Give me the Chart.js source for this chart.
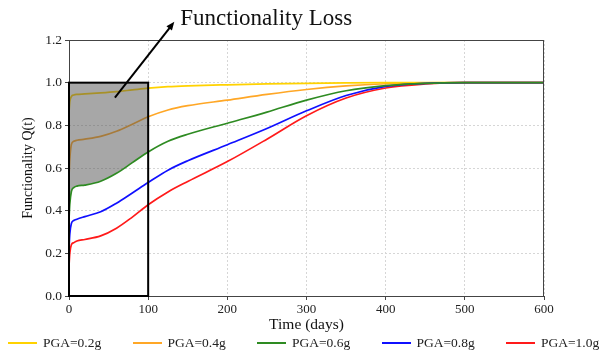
<!DOCTYPE html>
<html>
<head>
<meta charset="utf-8">
<script src="https://cdn.jsdelivr.net/npm/chart.js@4"></script>
<style>
  body { margin: 0; background: #fff; }
  #wrap { position: relative; width: 616px; height: 351px; }
  #legend {
    position: absolute; left: 8px; top: 335px;
    display: flex; font-family: "Liberation Serif", "Times New Roman", serif;
    font-size: 13.5px; line-height: 16px; color: #222;
  }
  .item { display: flex; align-items: center; width: 124.5px; }
  .swatch { width: 29px; height: 2px; margin-right: 6px; }
</style>
</head>
<body>
<div id="wrap">
  <canvas id="chart" width="616" height="351"></canvas>
  <div id="legend"></div>
</div>
<script>
// time axis in days
const days = [0, 1, 3, 6, 10, 20, 40, 60, 80, 100, 125, 150, 200, 250, 300, 350, 400, 450, 500, 550, 600];

// functionality Q(t) for each ground motion level
const pga02 = [0.86, 0.91, 0.935, 0.942, 0.945, 0.947, 0.952, 0.958, 0.966, 0.974, 0.981, 0.985, 0.99, 0.994, 0.997, 0.999, 1, 1, 1, 1, 1];
const pga04 = [0.56, 0.64, 0.71, 0.725, 0.73, 0.735, 0.748, 0.772, 0.805, 0.84, 0.872, 0.892, 0.918, 0.945, 0.968, 0.985, 0.995, 0.999, 1, 1, 1];
const pga06 = [0.36, 0.43, 0.49, 0.508, 0.515, 0.52, 0.538, 0.575, 0.625, 0.675, 0.725, 0.758, 0.81, 0.862, 0.918, 0.962, 0.986, 0.997, 1, 1, 1];
const pga08 = [0.22, 0.29, 0.34, 0.354, 0.36, 0.372, 0.395, 0.435, 0.483, 0.532, 0.59, 0.634, 0.709, 0.785, 0.868, 0.94, 0.983, 0.997, 1, 1, 1];
const pga10 = [0.14, 0.2, 0.24, 0.25, 0.258, 0.265, 0.282, 0.318, 0.37, 0.428, 0.488, 0.537, 0.63, 0.735, 0.845, 0.928, 0.975, 0.994, 1, 1, 1];

const seriesLabels = ['PGA=0.2g', 'PGA=0.4g', 'PGA=0.6g', 'PGA=0.8g', 'PGA=1.0g'];
const seriesColors = ['#FFD200', '#FFA726', '#2E8B22', '#1010FF', '#FF1A1A'];
const seriesValues = [pga02, pga04, pga06, pga08, pga10];
// drawing order: yellow/orange sit under the shaded loss area
const seriesOrder = [2, 2, 0, 0, 0];

// shaded recovery window (days) and target functionality
const lossWindow = [0, 100];
const fullFunction = 1.0;
// arrow from inside the shaded area to the caption
const arrowFrom = [58, 0.93];
const arrowTo = [133, 1.285];
const caption = 'Functionality Loss';

const xTicks = [0, 100, 200, 300, 400, 500, 600];
const yTicks = [0, 0.2, 0.4, 0.6, 0.8, 1.0, 1.2];

const serif = '"Liberation Serif", "Times New Roman", serif';

const toPoints = vals => days.map((d, i) => ({ x: d, y: vals[i] }));

const datasets = seriesValues.map((vals, i) => ({
    label: seriesLabels[i],
    data: toPoints(vals),
    borderColor: seriesColors[i],
    borderWidth: 1.7,
    pointRadius: 0,
    fill: false,
    cubicInterpolationMode: 'monotone',
    order: seriesOrder[i]
}));

// gray area between the 0.6g curve and full functionality
datasets.push({
    label: 'loss',
    data: toPoints(pga06).filter(p => p.x <= lossWindow[1]),
    borderWidth: 0,
    borderColor: 'rgba(0,0,0,0)',
    backgroundColor: 'rgba(80, 80, 80, 0.5)',
    pointRadius: 0,
    cubicInterpolationMode: 'monotone',
    fill: { value: fullFunction },
    order: 1
});

// frame, loss box, arrow and caption
const overlay = {
    id: 'overlay',
    afterDatasetsDraw(chart) {
        const { ctx, chartArea: a, scales: { x, y } } = chart;
        ctx.save();
        ctx.strokeStyle = '#444';
        ctx.lineWidth = 1;
        ctx.strokeRect(a.left + 0.5, a.top + 0.5, a.right - a.left - 1, a.bottom - a.top);

        const bx0 = x.getPixelForValue(lossWindow[0]);
        const bx1 = x.getPixelForValue(lossWindow[1]);
        const by0 = y.getPixelForValue(0);
        const by1 = y.getPixelForValue(fullFunction);
        ctx.strokeStyle = '#000';
        ctx.lineWidth = 2;
        ctx.strokeRect(bx0, by1, bx1 - bx0, by0 - by1);
        ctx.restore();
    },
    afterDraw(chart) {
        const { ctx, scales: { x, y } } = chart;
        const x0 = x.getPixelForValue(arrowFrom[0]);
        const y0 = y.getPixelForValue(arrowFrom[1]);
        const x1 = x.getPixelForValue(arrowTo[0]);
        const y1 = y.getPixelForValue(arrowTo[1]);
        const ang = Math.atan2(y1 - y0, x1 - x0);
        const head = 9;

        ctx.save();
        ctx.strokeStyle = '#000';
        ctx.fillStyle = '#000';
        ctx.lineWidth = 2;
        ctx.beginPath();
        ctx.moveTo(x0, y0);
        ctx.lineTo(x1 - Math.cos(ang) * head * 0.8, y1 - Math.sin(ang) * head * 0.8);
        ctx.stroke();
        ctx.beginPath();
        ctx.moveTo(x1, y1);
        ctx.lineTo(x1 - head * Math.cos(ang - 0.4), y1 - head * Math.sin(ang - 0.4));
        ctx.lineTo(x1 - head * Math.cos(ang + 0.4), y1 - head * Math.sin(ang + 0.4));
        ctx.closePath();
        ctx.fill();

        ctx.font = '23px ' + serif;
        ctx.textAlign = 'left';
        ctx.textBaseline = 'middle';
        ctx.fillStyle = '#111';
        ctx.fillText(caption, x1 + 6, y1 - 3);
        ctx.restore();
    }
};

new Chart(document.getElementById('chart'), {
    type: 'line',
    data: { datasets },
    options: {
        responsive: false,
        animation: false,
        layout: { padding: { top: 40, right: 72, bottom: 16, left: 0 } },
        plugins: {
            legend: { display: false },
            tooltip: { enabled: false }
        },
        scales: {
            x: {
                type: 'linear',
                min: 0,
                max: 600,
                afterBuildTicks: s => { s.ticks = xTicks.map(v => ({ value: v })); },
                afterFit: s => { s.height = 39; },
                grid: {
                    color: '#d6d6d6',
                    tickColor: '#444',
                    tickLength: 4
                },
                border: { display: false, dash: [2, 2] },
                ticks: {
                    padding: 2,
                    color: '#222',
                    font: { family: serif, size: 13 }
                },
                title: {
                    display: true,
                    text: 'Time (days)',
                    color: '#111',
                    font: { family: serif, size: 15.5 },
                    padding: { top: 0, bottom: 1 }
                }
            },
            y: {
                min: 0,
                max: 1.2,
                afterBuildTicks: s => { s.ticks = yTicks.map(v => ({ value: v })); },
                afterFit: s => { s.width = 69; },
                grid: {
                    color: '#d6d6d6',
                    tickColor: '#444',
                    tickLength: 4
                },
                border: { display: false, dash: [2, 2] },
                ticks: {
                    padding: 3,
                    color: '#222',
                    font: { family: serif, size: 13.5 },
                    callback: v => v.toFixed(1)
                },
                title: {
                    display: true,
                    text: 'Functionality Q(t)',
                    color: '#111',
                    font: { family: serif, size: 14 },
                    padding: { top: 20, bottom: 4 }
                }
            }
        }
    },
    plugins: [overlay]
});

// legend row under the plot
const legend = document.getElementById('legend');
seriesLabels.forEach((name, i) => {
    const item = document.createElement('div');
    item.className = 'item';
    const sw = document.createElement('span');
    sw.className = 'swatch';
    sw.style.background = seriesColors[i];
    const txt = document.createElement('span');
    txt.textContent = name;
    item.appendChild(sw);
    item.appendChild(txt);
    legend.appendChild(item);
});
</script>
</body>
</html>
